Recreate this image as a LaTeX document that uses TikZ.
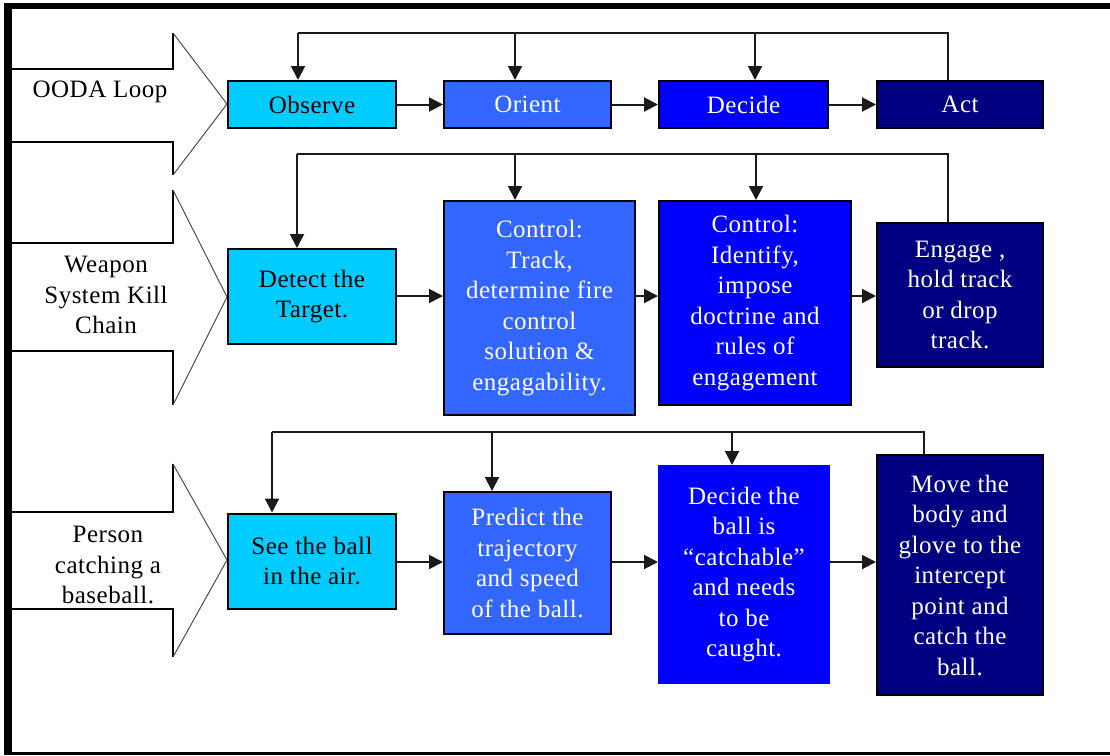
\documentclass[tikz,border=0pt]{standalone}
\usepackage{fontspec}
\setmainfont{Liberation Serif}[LetterSpace=2]
\usetikzlibrary{arrows.meta}

\definecolor{cCyan}{HTML}{00CCFF}
\definecolor{cMid}{HTML}{3366FF}
\definecolor{cBlue}{HTML}{0000FF}
\definecolor{cNavy}{HTML}{000080}
\definecolor{cLine}{HTML}{1A1A1A}

\begin{document}
\begin{tikzpicture}[x=1pt,y=-1pt,
  lbl/.style={font=\fontsize{25}{30.5}\selectfont, align=center, inner sep=0pt},
  box/.style={lbl, draw=black, line width=2pt, anchor=center},
  cyanbox/.style={box, fill=cCyan, text=black},
  midbox/.style={box, fill=cMid, text=white},
  bluebox/.style={box, fill=cBlue, text=white},
  navybox/.style={box, fill=cNavy, text=white},
  link/.style={draw=cLine, line width=2pt},
  arr/.style={link, -{Triangle[length=14pt,width=14pt]}},
  shaft/.style={draw=black, line width=2pt},
  headedge/.style={draw=black!70, line width=1pt},
]
\useasboundingbox (0,0) rectangle (1110,755);
\fill[white] (0,0) rectangle (1110,755);

% outer frame
\fill[black] (4,3) rectangle (1110,9);
\fill[black] (4,3) rectangle (12,755);
\fill[black] (4,752) rectangle (1110,755);

% block arrows on the left
\foreach \ht/\st/\sb/\hb/\tip in {33/69/142/175/104, 190/243/351/405/297, 464/512/609/657/560}{
  \fill[white] (12,\st) -- (173,\st) -- (173,\ht) -- (227,\tip) -- (173,\hb) -- (173,\sb) -- (12,\sb) -- cycle;
  \draw[shaft] (12,\st) -- (173,\st) -- (173,\ht);
  \draw[shaft] (12,\sb) -- (173,\sb) -- (173,\hb);
  \draw[headedge] (173,\ht) -- (227,\tip) -- (173,\hb);
}
\node[lbl] (lab1) at (100,92) {OODA Loop};
\node[lbl] (lab2) at (106,295) {Weapon\\System Kill\\Chain};
\node[lbl] (lab3) at (108,565) {Person\\catching a\\baseball.};

% row 1: OODA loop
\node[cyanbox, minimum width=168, minimum height=47] (obs) at (312,104.5) {Observe};
\node[midbox,  minimum width=167, minimum height=47] (ori) at (527.5,104.5) {Orient};
\node[bluebox, minimum width=169, minimum height=47] (dec) at (743.5,104.5) {Decide};
\node[navybox, minimum width=166, minimum height=47] (act) at (960,104.5) {Act};

% row 2: weapon system kill chain
\node[cyanbox, minimum width=168, minimum height=95] (det) at (312,296.5) {Detect the\\Target.};
\node[midbox,  minimum width=191, minimum height=214] (ct1) at (539.5,308) {Control:\\Track,\\determine fire\\control\\solution \&\\engagability.};
\node[bluebox, minimum width=192, minimum height=204] (ct2) at (755,303) {Control:\\Identify,\\impose\\doctrine and\\rules of\\engagement};
\node[navybox, minimum width=166, minimum height=144] (eng) at (960,295) {Engage ,\\hold track\\or drop\\track.};

% row 3: catching a baseball
\node[cyanbox, minimum width=168, minimum height=95] (see) at (312,561) {See the ball\\in the air.};
\node[midbox,  minimum width=167, minimum height=142] (pre) at (527.5,563) {Predict the\\trajectory\\and speed\\of the ball.};
\node[box, draw=cBlue, fill=cBlue, text=white, minimum width=170, minimum height=217] (dc3) at (744,574.5) {Decide the\\ball is\\“catchable”\\and needs\\to be\\caught.};
\node[navybox, minimum width=166, minimum height=240] (mov) at (960,575) {Move the\\body and\\glove to the\\intercept\\point and\\catch the\\ball.};

% forward connectors
\draw[arr] (obs.east) -- (ori.west);
\draw[arr] (ori.east) -- (dec.west);
\draw[arr] (dec.east) -- (act.west);

\coordinate (y2) at (0,296);
\draw[arr] (det.east |- y2) -- (ct1.west |- y2);
\draw[arr] (ct1.east |- y2) -- (ct2.west |- y2);
\draw[arr] (ct2.east |- y2) -- (eng.west |- y2);

\coordinate (y3) at (0,562);
\draw[arr] (see.east |- y3) -- (pre.west |- y3);
\draw[arr] (pre.east |- y3) -- (dc3.west |- y3);
\draw[arr] (dc3.east |- y3) -- (mov.west |- y3);

% feedback loops
\coordinate (f1r) at (948,33);  \coordinate (f1a) at (298,33);
\coordinate (f1b) at (515,33);  \coordinate (f1c) at (755,33);
\draw[link] (f1r |- act.north) -- (f1r) -- (f1a);
\draw[arr] (f1a) -- (f1a |- obs.north);
\draw[arr] (f1b) -- (f1b |- ori.north);
\draw[arr] (f1c) -- (f1c |- dec.north);

\coordinate (f2r) at (948,154); \coordinate (f2a) at (297,154);
\coordinate (f2b) at (515,154); \coordinate (f2c) at (756,154);
\draw[link] (f2r |- eng.north) -- (f2r) -- (f2a);
\draw[arr] (f2a) -- (f2a |- det.north);
\draw[arr] (f2b) -- (f2b |- ct1.north);
\draw[arr] (f2c) -- (f2c |- ct2.north);

\coordinate (f3r) at (924,432); \coordinate (f3a) at (272,432);
\coordinate (f3b) at (492,432); \coordinate (f3c) at (732,432);
\draw[link] (f3r |- mov.north) -- (f3r) -- (f3a);
\draw[arr] (f3a) -- (f3a |- see.north);
\draw[arr] (f3b) -- (f3b |- pre.north);
\draw[arr] (f3c) -- (f3c |- dc3.north);
\end{tikzpicture}
\end{document}
